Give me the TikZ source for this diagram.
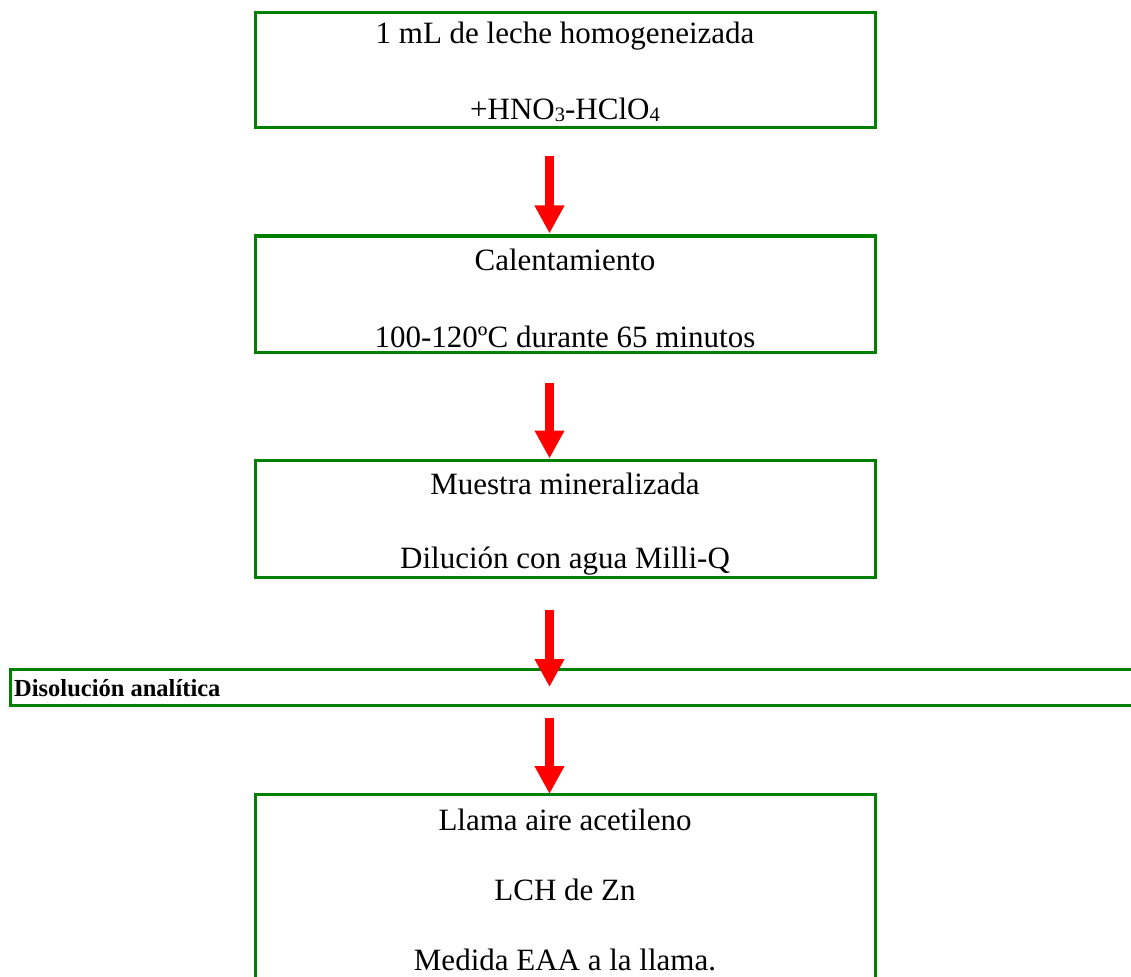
\documentclass[tikz,border=0pt]{standalone}
\usepackage{fontspec}
\setmainfont{Liberation Serif}
\usetikzlibrary{arrows.meta}
\definecolor{boxgreen}{RGB}{0,128,0}
\definecolor{arrowred}{RGB}{255,0,0}
\newcommand{\mysub}[1]{\raisebox{-2pt}{\fontsize{20.5}{20.5}\selectfont #1}}
\begin{document}
\begin{tikzpicture}[x=1pt,y=-1pt,
  stepbox/.style={draw=boxgreen, line width=3pt, inner sep=0pt, outer sep=0pt, anchor=north west},
  txt/.style={font=\fontsize{31}{31}\selectfont, anchor=base, inner sep=0pt},
  bartxt/.style={font=\fontsize{24.5}{24.5}\selectfont\bfseries, anchor=base west, inner sep=0pt},
  flow/.style={draw=arrowred, line width=9pt, -{Triangle[length=28pt,width=28pt]}}]
\useasboundingbox (0,0) rectangle (1131,976);
\clip (0,0) rectangle (1131,976);
% boxes
\node[stepbox, minimum width=620pt, minimum height=115.5pt] (b1) at (255,12.5) {};
\node[stepbox, minimum width=620pt, minimum height=116pt] (b2) at (255,236) {};
\node[stepbox, minimum width=620pt, minimum height=117pt] (b3) at (255,460) {};
\node[stepbox, minimum width=1140pt, minimum height=36pt] (bar) at (10,669) {};
\node[stepbox, minimum width=620pt, minimum height=220pt] (b5) at (255,794) {};
% texts
\node[txt] (t1a) at (565,44) {1 mL de leche homogeneizada};
\node[txt] (t1b) at (565,120) {+HNO\mysub{3}-HClO\mysub{4}};
\node[txt] (t2a) at (565,270) {Calentamiento};
\node[txt] (t2b) at (565,347) {100-120ºC durante 65 minutos};
\node[txt] (t3a) at (565,494) {Muestra mineralizada};
\node[txt] (t3b) at (565,568) {Dilución con agua Milli-Q};
\node[bartxt] (tbar) at (14,696) {Disolución analítica};
\node[txt] (t5a) at (565,830) {Llama aire acetileno};
\node[txt] (t5b) at (565,900) {LCH de Zn};
\node[txt] (t5c) at (565,970) {Medida EAA a la llama.};
% arrows
\path (b3.south |- bar.center) coordinate (barmid);
\path (b5.north |- bar.south) coordinate (barbot);
\draw[flow] ([xshift=-15.5pt,yshift=-28pt]b1.south) -- ([xshift=-15.5pt,yshift=2.5pt]b2.north);
\draw[flow] ([xshift=-15.5pt,yshift=-31pt]b2.south) -- ([xshift=-15.5pt,yshift=1.5pt]b3.north);
\draw[flow] ([xshift=-15.5pt,yshift=-33pt]b3.south) -- ([xshift=-15.5pt]barmid);
\draw[flow] ([xshift=-15.5pt,yshift=-13pt]barbot) -- ([xshift=-15.5pt]b5.north);
\end{tikzpicture}
\end{document}
